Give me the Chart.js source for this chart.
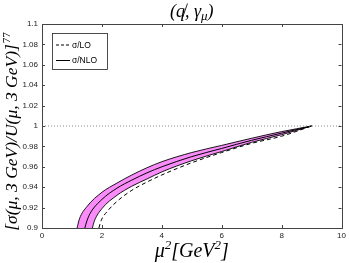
<!DOCTYPE html>
<html><head><meta charset="utf-8">
<script src="https://cdn.jsdelivr.net/npm/chart.js@4"></script>
<style>html,body{margin:0;padding:0;background:#fff}#w{width:349px;height:263px;position:relative}</style>
</head><body><div id="w"><canvas id="c"></canvas></div>
<script>
const xTicks = [0, 2, 4, 6, 8, 10];
const yTicks = [0.9, 0.92, 0.94, 0.96, 0.98, 1, 1.02, 1.04, 1.06, 1.08, 1.1];
const refLine = [1, 1];
const refX = [0, 10];
const muUpper = [1.17, 1.25, 1.5, 2, 2.5, 3, 3.5, 4, 5, 6, 7, 8, 9];
const nloUpper = [0.9, 0.909, 0.921, 0.935, 0.944, 0.952, 0.959, 0.965, 0.974, 0.981, 0.988, 0.9945, 1.0];
const muCentral = [1.43, 1.5, 1.6, 2, 2.5, 3, 3.5, 4, 5, 6, 7, 8, 9];
const nloCentral = [0.9, 0.907, 0.914, 0.928, 0.939, 0.947, 0.954, 0.960, 0.970, 0.978, 0.986, 0.993, 1.0];
// first lower-edge point lies below the visible range (continuation of the edge)
const muLower = [1.17, 1.68, 1.75, 2, 2.5, 3, 3.5, 4, 5, 6, 7, 8, 9];
const nloLower = [0.865, 0.9, 0.907, 0.919, 0.932, 0.941, 0.948, 0.955, 0.966, 0.975, 0.984, 0.9915, 1.0];
const muLO = [1.90, 1.97, 2.2, 2.5, 3, 3.5, 4, 5, 6, 7, 8, 9];
const lo = [0.9, 0.907, 0.917, 0.926, 0.937, 0.945, 0.952, 0.964, 0.974, 0.983, 0.990, 1.0];
const legendLabels = ['σ/LO', 'σ/NLO'];

const pts = (xs, ys) => xs.map((x, i) => ({x: x, y: ys[i]}));
const serif = '"Liberation Serif", "DejaVu Serif", serif';

const deco = {
  id: 'deco',
  afterDraw(chart) {
    const ctx = chart.ctx, a = chart.chartArea;
    const xs = chart.scales.x, ys = chart.scales.y;
    ctx.save();
    ctx.strokeStyle = '#444'; ctx.lineWidth = 1;
    ctx.beginPath();
    xTicks.forEach(v => {
      const p = Math.round(xs.getPixelForValue(v)) + 0.5;
      ctx.moveTo(p, a.bottom); ctx.lineTo(p, a.bottom - 3);
      ctx.moveTo(p, a.top); ctx.lineTo(p, a.top + 3);
    });
    yTicks.forEach(v => {
      const p = Math.round(ys.getPixelForValue(v)) + 0.5;
      ctx.moveTo(a.left, p); ctx.lineTo(a.left + 3, p);
      ctx.moveTo(a.right, p); ctx.lineTo(a.right - 3, p);
    });
    ctx.stroke();
    ctx.strokeRect(Math.round(a.left) + 0.5, Math.round(a.top) + 0.5, Math.round(a.right - a.left), Math.round(a.bottom - a.top));
    // legend
    const lx = 52.5, ly = 33.5, lw = 55, lh = 36;
    ctx.fillStyle = '#fff'; ctx.fillRect(lx, ly, lw, lh);
    ctx.strokeStyle = '#222'; ctx.lineWidth = 0.8; ctx.strokeRect(lx, ly, lw, lh);
    ctx.strokeStyle = '#000'; ctx.lineWidth = 1;
    ctx.setLineDash([3, 2]);
    ctx.beginPath(); ctx.moveTo(56, 45); ctx.lineTo(70, 45); ctx.stroke();
    ctx.setLineDash([]);
    ctx.beginPath(); ctx.moveTo(56, 60.5); ctx.lineTo(70, 60.5); ctx.stroke();
    ctx.fillStyle = '#000'; ctx.font = '8.5px "Liberation Sans", Arial, sans-serif';
    ctx.textBaseline = 'middle'; ctx.textAlign = 'left';
    ctx.fillText(legendLabels[0], 72, 45.5);
    ctx.fillText(legendLabels[1], 72, 61);
    // title
    const cx = (a.left + a.right) / 2;
    const tMain = '(q\u0338, γ', tSub = 'μ', tEnd = ')';
    const tb = 'italic 18px ' + serif, ts = 'italic 13px ' + serif;
    ctx.font = tb;
    const w1 = ctx.measureText(tMain).width, w3 = ctx.measureText(tEnd).width;
    ctx.font = ts;
    const w2 = ctx.measureText(tSub).width;
    let x0 = cx - (w1 + w2 + w3) / 2;
    ctx.textBaseline = 'alphabetic';
    ctx.font = tb; ctx.fillText(tMain, x0, 17);
    ctx.font = ts; ctx.fillText(tSub, x0 + w1, 20);
    ctx.font = tb; ctx.fillText(tEnd, x0 + w1 + w2, 17);
    // x label
    const xl1 = 'μ', xl2 = '2', xl3 = '[GeV', xl4 = '2', xl5 = ']';
    const big = 'italic 20px ' + serif, small = 'italic 13px ' + serif;
    ctx.font = big; const a1 = ctx.measureText(xl1).width, a3 = ctx.measureText(xl3).width, a5 = ctx.measureText(xl5).width;
    ctx.font = small; const a2 = ctx.measureText(xl2).width, a4 = ctx.measureText(xl4).width;
    let xx = cx - (a1 + a2 + a3 + a4 + a5) / 2;
    const by = 257;
    ctx.font = big; ctx.fillText(xl1, xx, by); xx += a1;
    ctx.font = small; ctx.fillText(xl2, xx, by - 8); xx += a2;
    ctx.font = big; ctx.fillText(xl3, xx, by); xx += a3;
    ctx.font = small; ctx.fillText(xl4, xx, by - 8); xx += a4;
    ctx.font = big; ctx.fillText(xl5, xx, by);
    // y label
    const yMain = '[σ(μ, 3 GeV)/U(μ, 3 GeV)]', ySup = '77';
    const fs = 17.5;
    ctx.font = 'italic ' + fs + 'px ' + serif; const m1 = ctx.measureText(yMain).width;
    ctx.font = '11px ' + serif; const m2 = ctx.measureText(ySup).width;
    ctx.translate(17, 132); ctx.rotate(-Math.PI / 2);
    let yx = -(m1 + m2) / 2;
    ctx.font = 'italic ' + fs + 'px ' + serif; ctx.fillText(yMain, yx, 0);
    ctx.font = '11px ' + serif; ctx.fillText(ySup, yx + m1 + 1, -7);
    ctx.restore();
  }
};

new Chart(document.getElementById('c'), {
  type: 'line',
  data: {
    datasets: [
      {data: pts(refX, refLine), borderColor: '#888', borderWidth: 1, borderDash: [1, 2], pointRadius: 0, fill: false},
      {data: pts(muLO, lo), borderColor: '#000', borderWidth: 1, borderDash: [4, 3], pointRadius: 0, fill: false, cubicInterpolationMode: 'monotone'},
      {data: pts(muCentral, nloCentral), borderColor: '#000', borderWidth: 1, pointRadius: 0, fill: false, cubicInterpolationMode: 'monotone'},
      {data: pts(muLower, nloLower), borderColor: '#000', borderWidth: 0.9, pointRadius: 0, fill: false, cubicInterpolationMode: 'monotone'},
      {data: pts(muUpper, nloUpper), borderColor: '#000', borderWidth: 0.9, pointRadius: 0, fill: {target: 3}, backgroundColor: '#f98cf9', cubicInterpolationMode: 'monotone'}
    ]
  },
  options: {
    responsive: true, maintainAspectRatio: false, animation: false,
    layout: {padding: {top: 24, right: 6, left: 0, bottom: 0}},
    plugins: {legend: {display: false}, title: {display: false}, tooltip: {enabled: false}},
    scales: {
      x: {
        type: 'linear', min: 0, max: 10,
        afterBuildTicks: s => { s.ticks = xTicks.map(v => ({value: v})); },
        afterFit: s => { s.height = 35; },
        grid: {display: false, drawTicks: false},
        border: {display: false},
        ticks: {padding: 3, maxRotation: 0, color: '#222', font: {family: '"Liberation Sans", Arial, sans-serif', size: 8}}
      },
      y: {
        min: 0.9, max: 1.1,
        afterBuildTicks: s => { s.ticks = yTicks.map(v => ({value: v})); },
        afterFit: s => { s.width = 42; },
        grid: {display: false, drawTicks: false},
        border: {display: false},
        ticks: {padding: 4, color: '#222', font: {family: '"Liberation Sans", Arial, sans-serif', size: 8}, callback: v => String(+v.toFixed(2))}
      }
    }
  },
  plugins: [deco]
});
</script></body></html>
